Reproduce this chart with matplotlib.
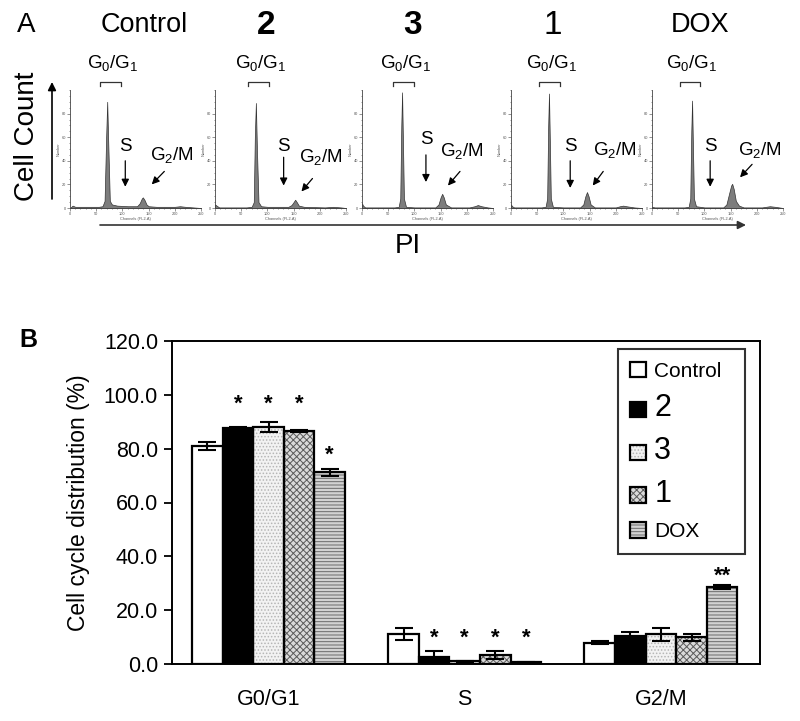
import matplotlib
matplotlib.use('Agg')
import matplotlib.pyplot as plt
import numpy as np

plt.rcParams['font.family'] = ['Liberation Sans', 'DejaVu Sans']
plt.rcParams['mathtext.fontset'] = 'custom'
plt.rcParams['mathtext.rm'] = 'Liberation Sans'
plt.rcParams['mathtext.it'] = 'Liberation Sans:italic'
plt.rcParams['hatch.linewidth'] = 0.7


# --- panel A: DNA content histograms (channel vs count, % of axis height) ---
panel_titles = ['Control', '2', '3', '1', 'DOX']
title_bold = [False, True, True, False, False]

ctrl_ch = [0, 5, 10, 55, 62, 66, 69, 71, 73, 76, 80, 90, 110, 128, 133, 137, 139, 142, 146, 150, 165, 200, 210, 220, 235, 250]
ctrl_cnt = [0, 2, 1, 1, 1.5, 6, 60, 90, 55, 6, 3, 2, 1.5, 1.5, 4, 8, 9, 7, 3, 1.5, 1, 1, 1.5, 1, 0.5, 0]

c2_ch = [0, 3, 8, 60, 70, 74, 76, 78, 80, 83, 88, 100, 140, 146, 150, 153, 156, 160, 170, 210, 225, 240, 250]
c2_cnt = [3, 2, 0.5, 0.5, 1, 5, 60, 89, 50, 5, 1.5, 1, 1, 2.5, 5, 7, 5, 2, 1, 0.5, 1, 0.5, 0]

c3_ch = [0, 2, 6, 62, 70, 73, 75, 76.5, 78, 80, 84, 100, 140, 146, 150, 153, 156, 160, 170, 205, 215, 221, 228, 240, 250]
c3_cnt = [4, 2, 0.5, 0.5, 1, 8, 70, 98, 60, 8, 1, 0.5, 0.5, 3, 9, 12, 9, 3, 0.5, 0.5, 1.5, 2.5, 1.5, 0.5, 0]

c1_ch = [0, 2, 6, 58, 66, 69, 71, 72.5, 74, 76, 80, 100, 132, 138, 142, 145, 148, 152, 160, 200, 208, 214, 220, 235, 250]
c1_cnt = [3, 1.5, 0.5, 0.5, 1, 8, 70, 97, 60, 8, 1, 0.5, 0.5, 3, 10, 13.5, 10, 3, 0.5, 0.5, 1.5, 2, 1.5, 0.5, 0]

dox_ch = [0, 5, 62, 70, 73, 75, 76.5, 78, 80, 84, 100, 136, 142, 147, 151, 153, 156, 160, 166, 175, 210, 225, 235, 250]
dox_cnt = [1, 0.5, 0.5, 1, 8, 65, 91, 55, 8, 1.5, 0.5, 0.5, 3, 12, 19, 20.5, 16, 6, 2, 0.5, 0.5, 1.5, 1, 0]

hist_ch = [ctrl_ch, c2_ch, c3_ch, c1_ch, dox_ch]
hist_cnt = [ctrl_cnt, c2_cnt, c3_cnt, c1_cnt, dox_cnt]

# --- panel B: cell cycle distribution (%) ---
phases = ['G0/G1', 'S', 'G2/M']
treatments = ['Control', '2', '3', '1', 'DOX']
control_pct = [81.0, 11.2, 7.9]
cmpd2_pct = [87.5, 2.5, 10.3]
cmpd3_pct = [88.0, 1.0, 11.1]
cmpd1_pct = [86.5, 3.3, 10.0]
dox_pct = [71.2, 0.6, 28.6]
control_err = [1.5, 2.2, 0.6]
cmpd2_err = [0.4, 2.3, 1.5]
cmpd3_err = [1.8, 0.3, 2.4]
cmpd1_err = [0.4, 1.5, 1.3]
dox_err = [1.2, 0.2, 0.7]
pct = [control_pct, cmpd2_pct, cmpd3_pct, cmpd1_pct, dox_pct]
err = [control_err, cmpd2_err, cmpd3_err, cmpd1_err, dox_err]

# significance marks: (treatment index, phase index, height, label)
sig_treat = [1, 2, 3, 4, 1, 2, 3, 4, 4]
sig_phase = [0, 0, 0, 0, 1, 1, 1, 1, 2]
sig_y = [99.2, 99.2, 99.2, 80.3, 12.6, 12.6, 12.6, 12.6, 35.3]
sig_label = ['*', '*', '*', '*', '*', '*', '*', '*', '**']


fig = plt.figure(figsize=(8, 7.21), dpi=100)
W, H = 800, 721

# overlay in pixel coordinates for the free-floating labels and arrows
over = fig.add_axes([0, 0, 1, 1])
over.set_xlim(0, W)
over.set_ylim(H, 0)
over.axis('off')

over.text(26, 25, 'A', fontsize=20, ha='center', va='center')
title_x = [144, 266, 413, 553, 700]
for tx, t, b in zip(title_x, panel_titles, title_bold):
    size = 19.5 if len(t) > 1 else 24
    over.text(tx, 25, t, fontsize=size, ha='center', va='center',
              fontweight='bold' if b else 'normal')

over.text(27, 136, 'Cell Count', fontsize=20, rotation=90, ha='center', va='center')
over.annotate('', xy=(52, 82), xytext=(52, 199),
              arrowprops=dict(arrowstyle='-|>', color='black', lw=1.2, mutation_scale=12,
                              shrinkA=0, shrinkB=0))
over.annotate('', xy=(746, 225), xytext=(100, 225),
              arrowprops=dict(arrowstyle='-|>', color='#333333', lw=1.2, mutation_scale=12,
                              shrinkA=0, shrinkB=0))
over.text(408, 246, 'PI', fontsize=20, ha='center', va='center')
over.text(28, 340, 'B', fontsize=18, fontweight='bold', ha='center', va='center')

# histogram panels
panel_left = [70, 215, 362, 511, 652]
panel_w, panel_top, panel_bot = 131, 90, 208
bracket_ch = [77, 83, 80, 73.5, 72.5]
s_ch = [105.5, 131, 122, 113, 111]
s_text_y = [52, 52, 58, 52, 52]
s_arrow_y = [(40, 18), (43, 19), (45, 22), (40, 17), (40, 18)]
g2m_text = [(194, 45), (203, 43), (191, 48), (198, 49), (206, 49)]
g2m_tail = [(180, 31), (186, 25), (187, 31), (176, 31), (191, 37)]
g2m_tip = [(156, 20), (165, 14), (164, 19), (156, 19), (168, 26)]

for i in range(5):
    ax = fig.add_axes([panel_left[i] / W, (H - panel_bot) / H, panel_w / W,
                       (panel_bot - panel_top) / H])
    ax.fill_between(hist_ch[i], hist_cnt[i], color='#7d7d7d', edgecolor='#333333', linewidth=0.5)
    ax.set_xlim(0, 250)
    ax.set_ylim(0, 100)
    ax.patch.set_alpha(0)
    for s in ['top', 'right']:
        ax.spines[s].set_visible(False)
    for s in ['left', 'bottom']:
        ax.spines[s].set_linewidth(0.6)
        ax.spines[s].set_color('#444444')
    ax.set_xticks(np.arange(0, 251, 50))
    ax.set_xticks(np.arange(0, 251, 10), minor=True)
    ax.set_yticks([0, 20, 40, 60, 80])
    ax.set_yticks(np.arange(0, 101, 5), minor=True)
    ax.tick_params(which='both', labelsize=2.8, width=0.4, color='#444444', pad=1, labelcolor='#555555')
    ax.tick_params(which='major', length=2)
    ax.tick_params(which='minor', length=1)
    ax.set_xlabel('Channels (FL2-A)', fontsize=2.8, labelpad=0.5, color='#555555')
    ax.set_ylabel('Number', fontsize=2.8, labelpad=0.5, color='#555555')

    # G0/G1 bracket
    bx = bracket_ch[i]
    ax.plot([bx - 20, bx - 20, bx + 20, bx + 20], [103, 107, 107, 103], color='#333333',
            lw=0.9, clip_on=False)
    ax.text(bx + 4, 123, r'$\mathregular{G_0/G_1}$', fontsize=13.5, ha='center', va='center')

    # S
    ax.text(s_ch[i], s_text_y[i], 'S', fontsize=13.5, ha='center', va='center')
    ax.annotate('', xy=(s_ch[i], s_arrow_y[i][1]), xytext=(s_ch[i], s_arrow_y[i][0]),
                arrowprops=dict(arrowstyle='-|>', color='black', lw=0.9, mutation_scale=11,
                                shrinkA=0, shrinkB=0), annotation_clip=False)
    # G2/M
    ax.text(g2m_text[i][0], g2m_text[i][1], r'$\mathregular{G_2/M}$', fontsize=13.5,
            ha='center', va='center')
    ax.annotate('', xy=g2m_tip[i], xytext=g2m_tail[i],
                arrowprops=dict(arrowstyle='-|>', color='black', lw=0.9, mutation_scale=11,
                                shrinkA=0, shrinkB=0), annotation_clip=False)

# bar chart
bx0, bx1, by0, by1 = 172, 760, 341, 664
axb = fig.add_axes([bx0 / W, (H - by1) / H, (bx1 - bx0) / W, (by1 - by0) / H])

faces = ['white', 'black', '#f2f2f2', '#dadada', '#d2d2d2']
hatch_cols = ['white', 'black', '#b5b5b5', '#5a5a5a', '#6a6a6a']
hatches = [None, None, '.....', 'xxxxx', '-----']
w = 0.156
centers = np.arange(len(phases))
handles = []
for i, name in enumerate(treatments):
    x = centers + (i - 2) * w
    fill = axb.bar(x, pct[i], w, color=faces[i], edgecolor=hatch_cols[i], hatch=hatches[i],
                   linewidth=0, zorder=2)
    outline = axb.bar(x, pct[i], w, fill=False, edgecolor='black', linewidth=1.6, zorder=3)
    axb.errorbar(x, pct[i], yerr=err[i], fmt='none', ecolor='black', elinewidth=1.5,
                 capsize=6.5, capthick=1.5, zorder=4)
    handles.append((fill, outline))

for t, p, y, lab in zip(sig_treat, sig_phase, sig_y, sig_label):
    axb.annotate(lab, (centers[p] + (t - 2) * w, y), xytext=(0, -9.5), textcoords='offset points',
                 ha='center', va='baseline', fontsize=16, fontweight='bold')

axb.set_xlim(-0.492, 2.505)
axb.set_ylim(0, 120)
axb.set_yticks(np.arange(0, 121, 20))
axb.set_yticklabels(['%.1f' % v for v in np.arange(0, 121, 20)])
axb.set_xticks(centers)
axb.set_xticklabels(phases)
axb.tick_params(axis='y', labelsize=15.5, length=6, width=1.3, direction='out', pad=4)
axb.tick_params(axis='x', labelsize=15.5, length=0, pad=18)
for s in axb.spines.values():
    s.set_linewidth(1.4)
axb.set_ylabel('Cell cycle distribution (%)', fontsize=16.5, labelpad=10)

# legend box spans the drawn frame of the reference: left 0.758, width 0.216
leg = axb.legend(handles, treatments, loc='upper left',
                 bbox_to_anchor=(0.758, 0.337, 0.216, 0.638), mode='expand',
                 borderaxespad=0, fontsize=15, frameon=True, fancybox=False,
                 edgecolor='black', handlelength=0.75, handleheight=0.75,
                 handletextpad=0.4, labelspacing=0.62, borderpad=0.6)
leg.get_frame().set_linewidth(1.5)
for txt in leg.get_texts():
    if len(txt.get_text()) == 1:
        txt.set_fontsize(22)

fig.savefig('out.png', dpi=100)
